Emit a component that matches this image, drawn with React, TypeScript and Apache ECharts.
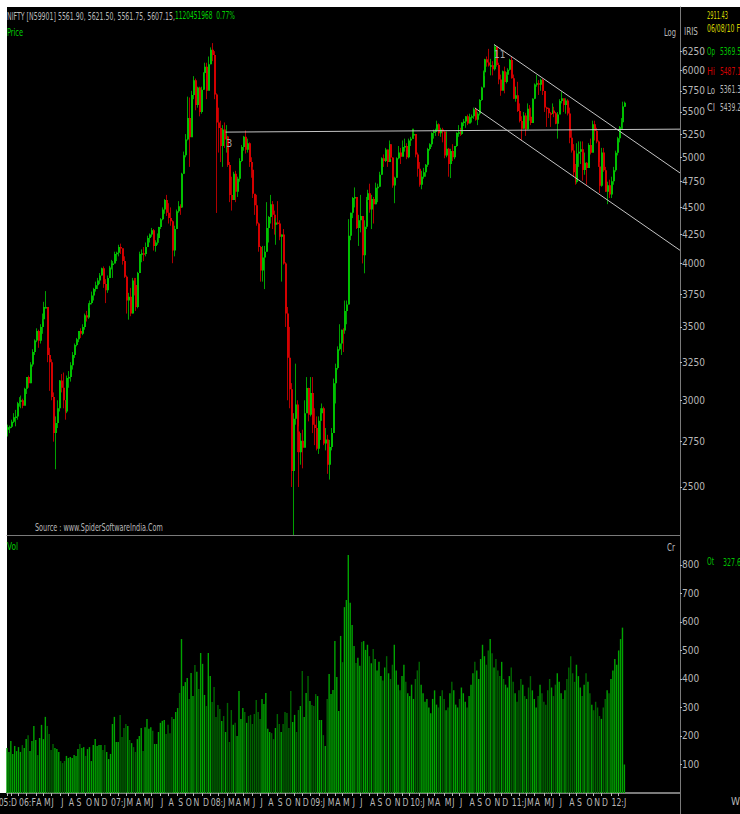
import React, { useEffect, useRef } from 'react';
import * as echarts from 'echarts';

// ---------------- data ----------------
const weekOneEnding = Date.UTC(2005, 11, 23); // first weekly bar (week ending Fri)
const weekSlots = 352; // axis room incl. empty weeks right of the last bar
const firstWeekOpen = 2820;
const lastWeekOpen = 5561.9;

// [high, low, close] per week
const hlc2005 = [[2850, 2780, 2835], [2845, 2800, 2837]];
const hlc2006 = [
  [2880, 2830, 2868], [2920, 2860, 2895], [2940, 2840, 2900], [2990, 2880, 2982],
  [3020, 2960, 2990], [3030, 2950, 3000], [3010, 2950, 2965], [3080, 2970, 3074],
  [3150, 3040, 3150], [3160, 3080, 3110], [3250, 3110, 3235], [3340, 3220, 3320], [3410, 3300, 3402],
  [3490, 3390, 3470], [3480, 3350, 3400], [3520, 3380, 3500], [3600, 3450, 3558],
  [3690, 3540, 3650], [3774, 3640, 3650], [3650, 3250, 3300], [3350, 3060, 3250],
  [3270, 3000, 3020], [3050, 2750, 2800], [2900, 2595, 2860], [3000, 2830, 2950], [3130, 2930, 3128],
  [3170, 3050, 3080], [3180, 2950, 3000], [3000, 2880, 2930], [3160, 2920, 3143],
  [3190, 3080, 3150], [3250, 3120, 3230], [3320, 3200, 3300], [3380, 3280, 3370],
  [3420, 3360, 3410], [3470, 3390, 3470], [3490, 3420, 3450], [3520, 3440, 3500], [3600, 3480, 3588],
  [3620, 3540, 3570], [3680, 3560, 3670], [3700, 3640, 3680], [3770, 3670, 3740],
  [3800, 3700, 3790], [3850, 3770, 3820], [3880, 3790, 3860], [3920, 3830, 3900],
  [3965, 3900, 3960], [3975, 3800, 3830], [3870, 3680, 3780], [3900, 3760, 3880], [3980, 3880, 3966],
];
const hlc2007 = [
  [4030, 3950, 4000], [4020, 3880, 4000], [4100, 4000, 4080], [4100, 4020, 4090],
  [4160, 4060, 4140], [4170, 4080, 4130], [4120, 3990, 4020], [4060, 3880, 3890],
  [3900, 3600, 3700], [3760, 3554, 3730], [3800, 3580, 3600], [3880, 3600, 3860], [3880, 3740, 3822],
  [3880, 3620, 3650], [3930, 3640, 3920], [4100, 3920, 4080], [4120, 4010, 4087],
  [4140, 4020, 4080], [4180, 4060, 4140], [4240, 4140, 4220], [4260, 4180, 4250],
  [4310, 4230, 4290], [4300, 4110, 4150], [4200, 4100, 4180], [4260, 4160, 4220], [4320, 4180, 4318],
  [4400, 4300, 4390], [4500, 4380, 4480], [4580, 4440, 4570], [4620, 4420, 4450],
  [4540, 4350, 4400], [4500, 4330, 4370], [4380, 4002, 4110], [4330, 4060, 4300], [4480, 4300, 4464],
  [4560, 4450, 4510], [4530, 4430, 4500], [4840, 4500, 4830], [5060, 4830, 5021],
  [5250, 5000, 5190], [5680, 5180, 5430], [5670, 4900, 5215], [5750, 5230, 5700],
  [5930, 5650, 5880], [5900, 5520, 5580], [5800, 5550, 5790], [5800, 5450, 5500], [5800, 5480, 5762],
  [5980, 5760, 5970], [6100, 5890, 6050], [6100, 5650, 5750], [6180, 5800, 6080],
];
const hlc2008 = [
  [6300, 6080, 6270], [6357, 6120, 6200], [6250, 5650, 5705], [5720, 4448, 5380],
  [5550, 5050, 5317], [5400, 4950, 5120], [5350, 4900, 5300], [5380, 5100, 5190], [5350, 5050, 5224],
  [5230, 4900, 4920], [4950, 4550, 4620], [4800, 4470, 4570], [4850, 4600, 4830],
  [4860, 4550, 4650], [4800, 4600, 4780], [4990, 4750, 4960], [5130, 4950, 5110],
  [5230, 5070, 5220], [5290, 5040, 5080], [5200, 5050, 5150], [5160, 4900, 4950], [5000, 4790, 4870],
  [4900, 4590, 4630], [4600, 4430, 4520], [4620, 4330, 4350], [4360, 4100, 4140],
  [4150, 3850, 3940], [4150, 3850, 4050], [4150, 3790, 4100], [4550, 4100, 4310],
  [4420, 4180, 4410], [4620, 4350, 4530], [4560, 4300, 4430], [4470, 4250, 4340], [4400, 4160, 4360],
  [4560, 4340, 4350], [4380, 4200, 4230], [4250, 3850, 4250], [4300, 3990, 4000],
  [4010, 3500, 3600], [3650, 3000, 3280], [3500, 2950, 3070], [3110, 2500, 2585], [2920, 2252, 2885],
  [3240, 2850, 2973], [3000, 2690, 2810], [2840, 2500, 2690], [2800, 2620, 2755],
  [2820, 2600, 2715], [3000, 2720, 2920], [3150, 2930, 3078], [3080, 2870, 2910],
];
const hlc2009 = [
  [3150, 2900, 3046], [3150, 2800, 2850], [2950, 2730, 2830], [2900, 2700, 2710], [2900, 2680, 2874],
  [2950, 2760, 2920], [2980, 2880, 2950], [2960, 2730, 2740], [2830, 2700, 2763],
  [2790, 2570, 2620], [2760, 2539, 2720], [2830, 2700, 2800], [3140, 2820, 3110],
  [3240, 2980, 3210], [3360, 3200, 3340], [3520, 3330, 3380], [3480, 3300, 3480],
  [3490, 3320, 3474], [3700, 3450, 3620], [3700, 3520, 3670], [4390, 3670, 4240], [4450, 4200, 4449],
  [4600, 4400, 4590], [4693, 4500, 4600], [4600, 4300, 4310], [4430, 4150, 4380],
  [4620, 4270, 4420], [4420, 4000, 4070], [4380, 3918, 4320], [4600, 4300, 4570], [4670, 4550, 4636],
  [4730, 4450, 4480], [4620, 4300, 4580], [4600, 4350, 4530], [4740, 4530, 4690],
  [4730, 4550, 4700], [4850, 4700, 4820], [5000, 4820, 4990], [5030, 4900, 4960],
  [5100, 4950, 5083], [5080, 4900, 4950], [5180, 4980, 5140], [5130, 4980, 4997], [5000, 4690, 4711],
  [4800, 4540, 4790], [5000, 4790, 4990], [5120, 4980, 5050], [5100, 4930, 5005],
  [5180, 5020, 5110], [5200, 5060, 5120], [5150, 4980, 5000], [5200, 4990, 5180],
];
const hlc2010 = [
  [5220, 5120, 5200], [5310, 5220, 5245], [5310, 5200, 5250], [5250, 5000, 5030], [5050, 4800, 4882],
  [4950, 4700, 4720], [4860, 4675, 4800], [4890, 4780, 4845], [4930, 4800, 4922],
  [5100, 4900, 5088], [5150, 5070, 5140], [5270, 5110, 5262], [5300, 5200, 5282],
  [5310, 5230, 5290], [5400, 5300, 5360], [5370, 5230, 5260], [5320, 5220, 5300], [5320, 5160, 5278],
  [5280, 4990, 5018], [5280, 5000, 5090], [5100, 4800, 4930], [5090, 4786, 5066],
  [5140, 4960, 5000], [5120, 4980, 5119], [5270, 5110, 5262], [5350, 5220, 5269],
  [5320, 5230, 5250], [5380, 5240, 5380], [5420, 5340, 5390], [5450, 5320, 5450], [5470, 5350, 5368],
  [5480, 5370, 5440], [5470, 5380, 5450], [5550, 5420, 5530], [5550, 5400, 5410],
  [5500, 5350, 5480], [5650, 5460, 5640], [5800, 5630, 5790], [6000, 5800, 5980],
  [6150, 5930, 6143], [6180, 6050, 6103], [6280, 6050, 6063], [6150, 5940, 6067], [6120, 5940, 6018],
  [6338, 6000, 6312], [6300, 6050, 6071], [6100, 5830, 5890], [5950, 5690, 5752],
  [6000, 5770, 5992], [6050, 5720, 5857], [5980, 5840, 5948], [6030, 5930, 6011], [6150, 6000, 6135],
];
const hlc2011 = [
  [6180, 5900, 5904], [5950, 5650, 5654], [5800, 5620, 5696], [5860, 5500, 5512],
  [5600, 5380, 5396], [5450, 5178, 5310], [5500, 5310, 5458], [5490, 5230, 5303],
  [5600, 5300, 5538], [5580, 5400, 5445], [5550, 5350, 5373], [5660, 5380, 5654],
  [5840, 5650, 5826], [5944, 5800, 5842], [5880, 5700, 5824], [5900, 5750, 5884], [5900, 5700, 5749],
  [5750, 5500, 5552], [5560, 5330, 5544], [5550, 5430, 5486], [5500, 5330, 5476],
  [5600, 5480, 5516], [5560, 5440, 5486], [5500, 5360, 5366], [5500, 5200, 5471],
  [5650, 5500, 5627], [5740, 5600, 5660], [5650, 5500, 5581], [5660, 5480, 5633], [5650, 5460, 5482],
  [5550, 5150, 5211], [5300, 5050, 5072], [5140, 4800, 4845], [4930, 4720, 4747],
  [5150, 4730, 5040], [5170, 4900, 5059], [5170, 4930, 5084], [5170, 4760, 4868], [5050, 4820, 4943],
  [4950, 4720, 4888], [5150, 4890, 5132], [5200, 5030, 5049], [5400, 5080, 5361],
  [5400, 5180, 5284], [5320, 5150, 5168], [5180, 4900, 4905], [4950, 4639, 4710],
  [5100, 4700, 5050], [5100, 4850, 4866], [4900, 4650, 4651], [4750, 4531, 4714], [4770, 4590, 4624],
];
const hlc2012 = [
  [4800, 4590, 4754], [4900, 4720, 4866], [5070, 4850, 5048], [5220, 5020, 5204],
  [5340, 5160, 5325], [5430, 5300, 5381], [5620, 5300, 5564], [5621.5, 5561.75, 5607.15],
];

// weekly volume (Cr)
const volA = [
  158, 144, 182, 137, 165, 147, 161, 144, 168, 158, 189, 203, 147, 182, 235, 186, 133, 193, 239, 189,
  267, 235, 207, 151, 172, 158, 154, 144, 112, 105, 112, 130, 123, 126, 123, 133, 130, 154, 172, 158,
  161, 130, 154, 161, 112, 168, 189, 165, 168, 168, 151, 168, 144, 119, 137, 242, 267, 179, 179, 274,
  196, 228, 242, 235, 186, 175, 161, 144, 189, 200, 228, 147, 231, 260, 225, 231, 218, 172, 172, 214,
  246, 253, 256, 207, 239, 210, 267, 260, 284, 298, 351, 540, 375, 389, 403, 330, 421, 340, 449, 425,
];
const volB = [
  365, 491, 453, 344, 305, 491, 410, 319, 372, 267, 309, 295, 253, 270, 214, 316, 179, 291, 239, 246,
  200, 358, 260, 298, 284, 246, 270, 274, 242, 277, 326, 284, 260, 330, 312, 351, 225, 214, 210, 189,
  228, 277, 242, 214, 242, 284, 281, 228, 358, 249, 274, 214, 291, 305, 428, 267, 351, 410, 323, 309,
  305, 347, 340, 256, 256, 203, 165, 330, 417, 347, 361, 533, 407, 288, 551, 459, 652, 677, 835, 667,
  589, 516, 456, 474, 446, 530, 533, 502,
];
const volC = [
  520, 480, 455, 505, 470, 430, 460, 410, 395, 440, 480, 420, 400,
  450, 520, 430, 380, 360, 410, 450, 390, 350, 340, 380, 330, 400, 430, 460,
  380, 350, 320, 330, 300, 280, 330, 360, 310, 300, 340, 360, 330, 290, 300, 350, 390, 360, 310, 300, 330, 370, 350, 320, 300,
  340, 380, 420, 460, 430, 400, 470, 520, 480, 450, 500, 540, 490, 440, 470, 430, 410, 460, 400, 380,
  370, 410, 440, 390, 350, 320, 360, 400, 380, 340, 330, 370, 410, 360, 330, 300, 340, 380, 350, 320, 310, 360, 400, 370, 340, 380, 420, 390, 350, 330,
  360, 400, 440, 480, 420, 390, 450, 410, 370, 340, 380, 420, 390, 350, 310, 290, 320, 300, 270, 260,
  300, 330, 360, 350, 400, 430, 470, 450, 500, 540, 580, 100,
];

const priceTicks = [2500, 2750, 3000, 3250, 3500, 3750, 4000, 4250, 4500, 4750, 5000, 5250, 5500, 5750, 6000, 6250];
const volumeTicks = [100, 200, 300, 400, 500, 600, 700, 800];
const priceRange = [2260, 6858];
const volumeMax = 898;

// month labels, one per month start from Dec 2005 to Feb 2012 ('' = tick without label)
const monthTickLabels = [
  '05:D',
  '', '06:F', '', 'A', 'M', 'J', 'J', 'A', 'S', 'O', 'N', 'D',
  '07:J', '', 'M', 'A', 'M', 'J', 'J', 'A', 'S', 'O', 'N', 'D',
  '08:J', '', 'M', 'A', 'M', 'J', 'J', 'A', 'S', 'O', 'N', 'D',
  '09:J', '', 'M', 'A', 'M', 'J', 'J', 'A', 'S', 'O', 'N', 'D',
  '10:J', '', 'M', 'A', 'M', 'J', 'J', 'A', 'S', 'O', 'N', 'D',
  '11:J', '', 'M', 'A', 'M', 'J', 'J', 'A', 'S', 'O', 'N', 'D',
  '12:J', '',
];

// trend lines: [week index, price]
const levelLine = [[114, 5272], [351, 5305]];
const channelUpper = [[254, 6338], [351, 4838]];
const channelLower = [[244, 5546], [351, 4112]];
const waveMarks: [number, number, string][] = [[116, 5151, '3'], [257, 6211, '11']];

const headerQuote = 'NIFTY [N59901] 5561.90, 5621.50, 5561.75, 5607.15,';
const headerVolume = '1120451968  0.77%';
const infoValue = '2911.43';
const infoDate = '06/08/10 F';
const infoOHLC = [['Op', '5369.5'], ['Hi', '5487.1'], ['Lo', '5361.3'], ['Cl', '5439.2']];
const infoVol = ['Ot', '327.6'];

// ---------------- styling ----------------
const FONT = '"Liberation Sans Narrow", "Arial Narrow", "DejaVu Sans Condensed", sans-serif';
const GRAY = '#b8b8b8';
const LINE_GRAY = '#7a7a7a';

let measureCtx: CanvasRenderingContext2D | null = null;
function fitScale(text: string, size: number, width: number) {
  if (!measureCtx) measureCtx = document.createElement('canvas').getContext('2d');
  if (!measureCtx) return 1;
  measureCtx.font = `${size}px ${FONT}`;
  const w = measureCtx.measureText(text).width;
  return w > 0 ? width / w : 1;
}
function label(x: number, y: number, text: string, fill: string, width: number, size = 11) {
  return {
    type: 'text', x, y, silent: true, scaleX: fitScale(text, size, width),
    style: { text, fill, font: `${size}px ${FONT}`, verticalAlign: 'top', align: 'left' },
  };
}

function prepare() {
  const weeklyHLC = [...hlc2005, ...hlc2006, ...hlc2007, ...hlc2008, ...hlc2009, ...hlc2010, ...hlc2011, ...hlc2012];
  const volumes = [...volA, ...volB, ...volC];
  const n = weeklyHLC.length;
  const dates: string[] = [];
  const months: number[] = [];
  for (let i = 0; i < weekSlots; i++) {
    const d = new Date(weekOneEnding + i * 7 * 86400000);
    dates.push(d.toISOString().slice(0, 10));
    months.push(d.getUTCFullYear() * 12 + d.getUTCMonth());
  }
  const monthStarts: { idx: number; text: string }[] = [];
  let m = 0;
  for (let i = 0; i < n; i++) {
    if (i === 0 || months[i] !== months[i - 1]) {
      monthStarts.push({ idx: i, text: monthTickLabels[m] ?? '' });
      m++;
    }
  }
  return { weeklyHLC, volumes, n, dates, monthStarts };
}

function buildOption(p: ReturnType<typeof prepare>) {
  const { weeklyHLC, volumes, n, dates, monthStarts } = p;
  const tickSet = new Set(monthStarts.map((s) => s.idx));
  const opens = weeklyHLC.map((w, i) => (i === 0 ? firstWeekOpen : i === n - 1 ? lastWeekOpen : weeklyHLC[i - 1][2]));
  const candles = weeklyHLC.map((w, i) => [i, Math.log(opens[i]), Math.log(w[2]), Math.log(w[1]), Math.log(w[0])]);
  const volData = volumes.map((v, i) => ({
    value: v,
    itemStyle: { color: weeklyHLC[i][2] >= opens[i] ? '#00a400' : '#006400' },
  }));

  const seg = (a: number[][]) => [{ coord: [a[0][0], Math.log(a[0][1])] }, { coord: [a[1][0], Math.log(a[1][1])] }];

  const graphic: any[] = [
    { type: 'rect', shape: { x: 0, y: 0, width: 740, height: 7 }, style: { fill: '#fff' }, silent: true },
    { type: 'rect', shape: { x: 0, y: 0, width: 7, height: 793 }, style: { fill: '#fff' }, silent: true },
    { type: 'line', shape: { x1: 680.5, y1: 7, x2: 680.5, y2: 814 }, style: { stroke: LINE_GRAY, lineWidth: 1 }, silent: true },
    label(7, 10, headerQuote, GRAY, 168),
    label(175, 10, headerVolume, '#00d000', 60),
    label(7, 26, 'Price', '#00d000', 16),
    label(664, 26, 'Log', GRAY, 12),
    label(684, 26, 'IRIS', GRAY, 14),
    label(707, 10, infoValue, '#d4d400', 21),
    label(707, 23, infoDate, '#d4d400', 33),
    label(7, 541, 'Vol', '#00d000', 11),
    label(667, 541, 'Cr', GRAY, 8),
    label(35, 521, 'Source : www.SpiderSoftwareIndia.Com', GRAY, 128),
    label(707, 556, infoVol[0], '#00c000', 7),
    label(723, 556, infoVol[1], '#00c000', 18),
    label(731, 795, 'W', GRAY, 9),
  ];
  const infoColors = ['#00c000', '#d00000', GRAY, GRAY];
  const infoY = [46, 66, 84, 102];
  infoOHLC.forEach((pair, k) => {
    graphic.push(label(707, infoY[k], pair[0], infoColors[k], 8));
    graphic.push(label(720, infoY[k], pair[1], infoColors[k], 21));
  });

  const option = {
    animation: false,
    backgroundColor: '#000',
    textStyle: { fontFamily: FONT },
    grid: [
      { left: 7, top: 7, width: 673, height: 528 },
      { left: 7, top: 537, width: 673, height: 256 },
    ],
    xAxis: [
      {
        type: 'category', gridIndex: 0, data: dates, boundaryGap: false,
        axisLine: { show: true, onZero: false, lineStyle: { color: LINE_GRAY } },
        axisTick: { show: false }, axisLabel: { show: false }, splitLine: { show: false },
      },
      {
        type: 'category', gridIndex: 1, data: dates, boundaryGap: false,
        axisLine: { show: true, onZero: false, lineStyle: { color: LINE_GRAY, width: 2 } },
        axisTick: { show: true, length: 3, interval: (i: number) => tickSet.has(i), lineStyle: { color: GRAY } },
        axisLabel: { show: false },
        splitLine: { show: false },
      },
    ],
    yAxis: [
      {
        type: 'value', gridIndex: 0, position: 'right',
        min: Math.log(priceRange[0]), max: Math.log(priceRange[1]),
        axisLine: { show: true, lineStyle: { color: LINE_GRAY } },
        axisTick: { show: true, length: 2, customValues: priceTicks.map(Math.log), lineStyle: { color: GRAY } },
        axisLabel: {
          customValues: priceTicks.map(Math.log),
          formatter: (v: number) => String(Math.round(Math.exp(v))),
          color: GRAY, fontFamily: FONT, fontSize: 10, margin: 2,
        },
        splitLine: { show: false },
      },
      {
        type: 'value', gridIndex: 1, position: 'right', min: 0, max: volumeMax,
        axisLine: { show: true, lineStyle: { color: LINE_GRAY } },
        axisTick: { show: true, length: 2, customValues: volumeTicks, lineStyle: { color: GRAY } },
        axisLabel: { customValues: volumeTicks, color: GRAY, fontFamily: FONT, fontSize: 10, margin: 2 },
        splitLine: { show: false },
      },
    ],
    series: [
      {
        type: 'custom', xAxisIndex: 0, yAxisIndex: 0, data: candles, silent: true, clip: true,
        encode: { x: 0, y: [1, 2, 3, 4] },
        renderItem: (_params: any, api: any) => {
          const idx = api.value(0);
          const o = api.coord([idx, api.value(1)]);
          const c = api.coord([idx, api.value(2)]);
          const l = api.coord([idx, api.value(3)]);
          const h = api.coord([idx, api.value(4)]);
          const up = api.value(2) >= api.value(1);
          const x = Math.round(o[0]) + 0.5;
          const top = Math.min(o[1], c[1]);
          const bot = Math.max(o[1], c[1]);
          return {
            type: 'group',
            children: [
              { type: 'line', shape: { x1: x, y1: h[1], x2: x, y2: l[1] }, style: { stroke: up ? '#00a000' : '#b00000', lineWidth: 1 } },
              { type: 'rect', shape: { x: x - 0.5, y: top, width: 2, height: Math.max(1.5, bot - top) }, style: { fill: up ? '#00c000' : '#d40000' } },
            ],
          };
        },
        markLine: {
          silent: true, symbol: ['none', 'none'], animation: false,
          label: { show: false },
          lineStyle: { color: '#c4c4c4', width: 1, type: 'solid' },
          data: [seg(levelLine), seg(channelUpper), seg(channelLower)],
        },
        markPoint: {
          silent: true, symbol: 'circle', symbolSize: 1, itemStyle: { color: 'rgba(0,0,0,0)' },
          label: { show: true, color: '#a8a8a8', fontFamily: FONT, fontSize: 10, position: 'inside' },
          data: waveMarks.map((w) => ({ coord: [w[0], Math.log(w[1])], value: w[2], label: { formatter: w[2] } })),
        },
      },
      {
        type: 'bar', xAxisIndex: 1, yAxisIndex: 1, data: volData, barWidth: 1.4, silent: true,
      },
    ],
    graphic,
  };
  return option;
}

// month labels placed at the axis' own tick positions
function dateLabels(chart: echarts.ECharts, p: ReturnType<typeof prepare>) {
  const out: any[] = [];
  const shown = p.monthStarts.filter((s) => s.text);
  shown.forEach((s, k) => {
    const px = chart.convertToPixel({ xAxisIndex: 1 }, p.dates[s.idx]) as number;
    const scale = 0.78;
    let x = px + 0.5;
    if (k === 0 && shown.length > 1) {
      const nextPx = chart.convertToPixel({ xAxisIndex: 1 }, p.dates[shown[1].idx]) as number;
      const w = fitScale(s.text, 11, 1) > 0 ? 1 / fitScale(s.text, 11, 1) : 0;
      x = Math.min(x, nextPx - 1.5 - w * scale);
    }
    out.push({
      type: 'text', x, y: 797, scaleX: scale, silent: true,
      style: { text: s.text, fill: GRAY, font: `11px ${FONT}`, verticalAlign: 'top', align: 'left' },
    });
  });
  return out;
}

export default function App() {
  const ref = useRef<HTMLDivElement>(null);
  useEffect(() => {
    if (!ref.current) return;
    const chart = echarts.init(ref.current, null, { renderer: 'svg' });
    const p = prepare();
    const option: any = buildOption(p);
    chart.setOption(option);
    chart.setOption({ graphic: [...option.graphic, ...dateLabels(chart, p)] });
    return () => chart.dispose();
  }, []);
  return <div ref={ref} style={{ position: 'absolute', left: 0, top: 0, width: 740, height: 814 }} />;
}
